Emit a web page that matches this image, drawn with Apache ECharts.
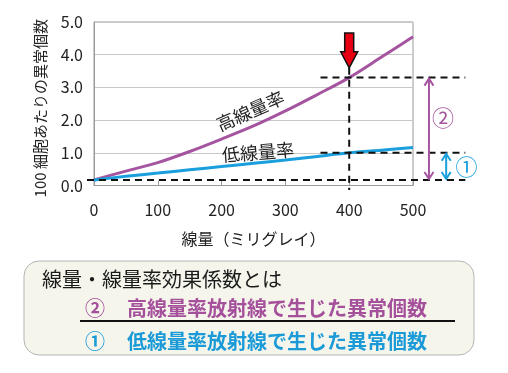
<!DOCTYPE html>
<html><head><meta charset="utf-8">
<script src="https://cdn.jsdelivr.net/npm/echarts@6/dist/echarts.min.js"></script>
<style>html,body{margin:0;padding:0;background:#fff}#c{width:508px;height:373px}</style>
</head><body><div id="c"></div>
<script>
const doses = [0,50,100,150,200,250,300,350,400,450,500];
const highRate = [0.17,0.44,0.70,1.04,1.42,1.82,2.28,2.78,3.30,3.92,4.55];
const lowRate = [0.17,0.28,0.38,0.48,0.58,0.68,0.78,0.89,1.00,1.08,1.16];
const yTickLabels = ['0.0','1.0','2.0','3.0','4.0','5.0'];
const xTickLabels = ['0','100','200','300','400','500'];
const refDose = 400;
const baseline = 0.17;
const highAtRef = 3.3;
const lowAtRef = 1.0;
const highName = '高線量率';
const lowName = '低線量率';
const formulaTitle = '線量・線量率効果係数とは';
const numerator = '高線量率放射線で生じた異常個数';
const denominator = '低線量率放射線で生じた異常個数';

const FONT = '"Noto Sans CJK JP", "Noto Sans", sans-serif';
const PURPLE = '#a5559f';
const BLUE = '#1a9fdd';
const TEXT_PURPLE = '#a4509b';
const TEXT_BLUE = '#1b9ad8';

const chart = echarts.init(document.getElementById('c'), null, {renderer: 'canvas'});
chart.setOption({
  animation: false,
  backgroundColor: '#fff',
  textStyle: {fontFamily: FONT},
  grid: {left: 94, right: 95, top: 22, bottom: 187.5, show: true, borderColor: '#9a9a9a', borderWidth: 1},
  xAxis: {
    type: 'value', min: 0, max: 500, interval: 100,
    name: '線量（ミリグレイ）', nameLocation: 'middle', nameGap: 45,
    nameTextStyle: {fontSize: 16, color: '#222', fontFamily: FONT},
    axisLine: {show: true, lineStyle: {color: '#9a9a9a'}},
    axisTick: {show: true, inside: true, length: 5, lineStyle: {color: '#9a9a9a'}},
    splitLine: {show: false},
    axisLabel: {fontSize: 16, color: '#222', margin: 16, fontFamily: FONT,
      formatter: v => xTickLabels[Math.round(v / 100)]}
  },
  yAxis: {
    type: 'value', min: 0, max: 5, interval: 1,
    name: '100 細胞あたりの異常個数', nameLocation: 'middle', nameGap: 46, nameRotate: 90,
    nameTextStyle: {fontSize: 15, color: '#222', fontFamily: FONT, padding: [0, 9, 0, 0]},
    axisLine: {show: true, lineStyle: {color: '#9a9a9a'}},
    axisTick: {show: false},
    splitLine: {show: true, lineStyle: {color: '#c8c8c8'}},
    axisLabel: {fontSize: 16, color: '#222', margin: 11, fontFamily: FONT,
      formatter: v => yTickLabels[Math.round(v)]}
  },
  series: [
    {type: 'line', data: doses.map((d, i) => [d, highRate[i]]), smooth: 0.3, showSymbol: false,
     lineStyle: {color: PURPLE, width: 3}, z: 5},
    {type: 'line', data: doses.map((d, i) => [d, lowRate[i]]), smooth: 0.3, showSymbol: false,
     lineStyle: {color: BLUE, width: 3}, z: 5}
  ]
});

function P(x, y) { return chart.convertToPixel({gridIndex: 0}, [x, y]); }
const dash = {stroke: '#111', lineWidth: 2, lineDash: [7, 5]};
function hLine(x1, x2, y) {
  const a = P(x1, y), b = P(x2, y);
  return {type: 'line', z: 20, shape: {x1: a[0], y1: a[1], x2: b[0], y2: a[1]}, style: dash};
}
function dblArrow(x, v1, v2, color) {
  const a = P(x, v1), b = P(x, v2);
  const px = a[0], top = a[1], bot = b[1];
  return [
    {type: 'line', z: 21, shape: {x1: px, y1: top + 1, x2: px, y2: bot - 1}, style: {stroke: color, lineWidth: 2}},
    {type: 'polyline', z: 21, shape: {points: [[px - 4.5, top + 8], [px, top + 1], [px + 4.5, top + 8]]}, style: {stroke: color, lineWidth: 2, fill: null}},
    {type: 'polyline', z: 21, shape: {points: [[px - 4.5, bot - 8], [px, bot - 1], [px + 4.5, bot - 8]]}, style: {stroke: color, lineWidth: 2, fill: null}}
  ];
}

const g = [];
g.push(hLine(-11, 582, baseline));
g.push(hLine(355, 582, highAtRef));
g.push(hLine(355, 582, lowAtRef));
(function () {
  const a = P(refDose, 3.6), b = P(refDose, -0.14);
  g.push({type: 'line', z: 20, shape: {x1: a[0], y1: a[1], x2: b[0], y2: b[1]}, style: dash});
  const t = P(refDose, 4.66), tip = P(refDose, 3.6);
  const cx = t[0], y0 = t[1], y1 = tip[1], hy = y1 - 16;
  g.push({type: 'polygon', z: 22, shape: {points: [[cx - 4.5, y0], [cx + 4.5, y0], [cx + 4.5, hy], [cx + 8.5, hy], [cx, y1], [cx - 8.5, hy], [cx - 4.5, hy]]},
    style: {fill: '#e60012', stroke: '#111', lineWidth: 1.5}});
})();
g.push(...dblArrow(525, highAtRef, baseline, PURPLE));
g.push(...dblArrow(552, lowAtRef, baseline, BLUE));
(function () {
  const a = P(547, 2.06);
  g.push({type: 'text', z: 23, style: {text: '②', x: a[0], y: a[1], font: '22px ' + FONT, fill: PURPLE, align: 'center', verticalAlign: 'middle'}});
  const b = P(584, 0.57);
  g.push({type: 'text', z: 23, style: {text: '①', x: b[0], y: b[1], font: '22px ' + FONT, fill: BLUE, align: 'center', verticalAlign: 'middle'}});
  const h = P(245, 2.28);
  g.push({type: 'text', z: 23, x: h[0], y: h[1], rotation: 24 * Math.PI / 180,
    style: {text: highName, x: 0, y: 0, font: '18px ' + FONT, fill: '#222', align: 'center', verticalAlign: 'middle'}});
  const l = P(257, 1.02);
  g.push({type: 'text', z: 23, x: l[0], y: l[1], rotation: 4.5 * Math.PI / 180,
    style: {text: lowName, x: 0, y: 0, font: '18px ' + FONT, fill: '#222', align: 'center', verticalAlign: 'middle'}});
})();
// formula box
g.push({type: 'rect', z: 1, shape: {x: 24, y: 261, width: 450, height: 94, r: 15},
  style: {fill: '#f5f5ec', stroke: '#b4b4b4', lineWidth: 1}});
g.push({type: 'text', z: 2, style: {text: formulaTitle, x: 42, y: 279, font: '20px ' + FONT, fill: '#1a1a1a', verticalAlign: 'middle'}});
g.push({type: 'text', z: 2, style: {text: '②', x: 85, y: 308, font: 'bold 20px ' + FONT, fill: TEXT_PURPLE, verticalAlign: 'middle'}});
g.push({type: 'text', z: 2, style: {text: numerator, x: 127, y: 308, font: 'bold 20px ' + FONT, fill: TEXT_PURPLE, verticalAlign: 'middle'}});
g.push({type: 'line', z: 2, shape: {x1: 80, y1: 321, x2: 455, y2: 321}, style: {stroke: '#111', lineWidth: 2}});
g.push({type: 'text', z: 2, style: {text: '①', x: 85, y: 341, font: 'bold 20px ' + FONT, fill: TEXT_BLUE, verticalAlign: 'middle'}});
g.push({type: 'text', z: 2, style: {text: denominator, x: 127, y: 341, font: 'bold 20px ' + FONT, fill: TEXT_BLUE, verticalAlign: 'middle'}});

chart.setOption({graphic: g});
</script>
</body></html>
